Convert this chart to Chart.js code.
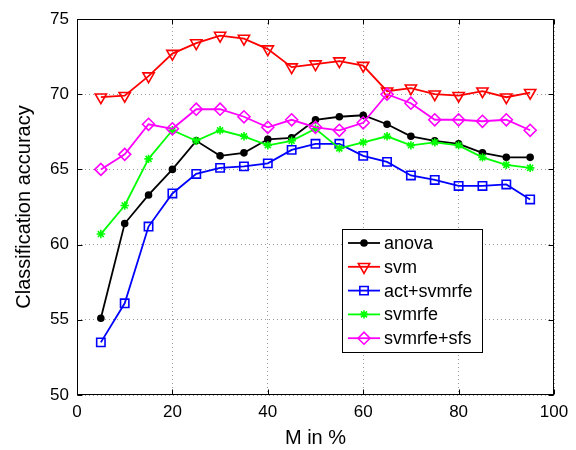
<!DOCTYPE html>
<html>
<head>
<meta charset="utf-8">
<script src="https://cdn.jsdelivr.net/npm/chart.js@4.4.1/dist/chart.umd.min.js"></script>
<style>
html,body{margin:0;padding:0;background:#ffffff;}
#wrap{width:576px;height:450px;position:relative;}
</style>
</head>
<body>
<div id="wrap"><canvas id="c" width="576" height="450"></canvas></div>
<script>
// ---- data ----
const mPercent = [5,10,15,20,25,30,35,40,45,50,55,60,65,70,75,80,85,90,95];
const anova      = [55.1,61.4,63.3,65.0,66.9,65.9,66.1,67.0,67.1,68.3,68.5,68.6,68.0,67.2,66.9,66.7,66.1,65.8,65.8];
const svm        = [69.8,69.9,71.2,72.7,73.4,73.9,73.7,73.0,71.8,72.0,72.2,71.9,70.2,70.4,70.0,69.9,70.2,69.8,70.1];
const actSvmrfe  = [53.5,56.1,61.2,63.4,64.7,65.1,65.2,65.4,66.3,66.7,66.7,65.9,65.5,64.6,64.3,63.9,63.9,64.0,63.0];
const svmrfe     = [60.7,62.6,65.7,67.6,66.9,67.6,67.2,66.6,66.9,67.7,66.4,66.8,67.2,66.6,66.8,66.6,65.8,65.3,65.1];
const svmrfeSfs  = [65.0,66.0,68.0,67.7,69.0,69.0,68.5,67.8,68.3,67.8,67.6,68.1,70.0,69.4,68.3,68.3,68.2,68.3,67.6];
const seriesNames = ['anova','svm','act+svmrfe','svmrfe','svmrfe+sfs'];
const xTicks = [0,20,40,60,80,100];
const yTicks = [50,55,60,65,70,75];

const FONT = "'Liberation Sans', Arial, Helvetica, sans-serif";
const pts = arr => arr.map((v,i)=>({x:mPercent[i], y:v}));
const clear = 'rgba(0,0,0,0)';

function ds(label, data, color, style, radius, extra, order){
  return Object.assign({
    label: label,
    data: pts(data),
    borderColor: color,
    backgroundColor: color,
    borderWidth: 1.8,
    pointStyle: style,
    pointRadius: radius,
    pointHoverRadius: radius,
    pointBorderColor: color,
    pointBackgroundColor: clear,
    pointBorderWidth: 1.6,
    tension: 0,
    fill: false,
    order: order
  }, extra || {});
}

const datasets = [
  ds(seriesNames[0], anova, '#000000', 'circle', 3, {pointBackgroundColor:'#000000'}, 5),
  ds(seriesNames[1], svm, '#ff0000', 'triangle', 6.5, {pointRotation:180}, 4),
  ds(seriesNames[2], actSvmrfe, '#0000ff', 'rect', 5.9, {}, 3),
  ds(seriesNames[3], svmrfe, '#00ff00', 'star', 4.2, {}, 2),
  ds(seriesNames[4], svmrfeSfs, '#ff00ff', 'rectRot', 6, {}, 1)
];

const boxPlugin = {
  id: 'boxPlugin',
  afterDatasetsDraw(chart){
    const {ctx, chartArea:a, scales} = chart;
    ctx.save();
    ctx.setLineDash([]);
    ctx.strokeStyle = '#000';
    ctx.lineWidth = 1;
    const L = Math.round(a.left)+0.5, R = Math.round(a.right)-0.5, T = Math.round(a.top)+0.5, B = Math.round(a.bottom)-0.5;
    ctx.strokeRect(L, T, R-L, B-T);
    const tl = 5;
    ctx.beginPath();
    xTicks.forEach(v=>{
      const px = Math.round(scales.x.getPixelForValue(v))+0.5;
      ctx.moveTo(px, B); ctx.lineTo(px, B-tl);
      ctx.moveTo(px, T); ctx.lineTo(px, T+tl);
    });
    yTicks.forEach(v=>{
      const py = Math.round(scales.y.getPixelForValue(v))+0.5;
      ctx.moveTo(L, py); ctx.lineTo(L+tl, py);
      ctx.moveTo(R, py); ctx.lineTo(R-tl, py);
    });
    ctx.stroke();
    ctx.restore();
  },
  afterDraw(chart){
    // legend inside the axes
    const ctx = chart.ctx;
    const bx = 342, by = 229, bw = 140, bh = 123;
    ctx.save();
    ctx.setLineDash([]);
    ctx.fillStyle = '#fff';
    ctx.fillRect(bx, by, bw, bh);
    ctx.strokeStyle = '#000';
    ctx.lineWidth = 1;
    ctx.strokeRect(bx+0.5, by+0.5, bw, bh);
    const step = 23.8;
    chart.data.datasets.forEach((d,i)=>{
      const y = by + 14 + i*step;
      ctx.strokeStyle = d.borderColor;
      ctx.lineWidth = d.borderWidth;
      ctx.beginPath();
      ctx.moveTo(bx+6, y); ctx.lineTo(bx+38, y);
      ctx.stroke();
      ctx.fillStyle = d.pointBackgroundColor;
      ctx.strokeStyle = d.pointBorderColor;
      ctx.lineWidth = d.pointBorderWidth;
      Chart.helpers.drawPoint(ctx, {pointStyle:d.pointStyle, rotation:d.pointRotation||0, radius:d.pointRadius, borderWidth:d.pointBorderWidth}, bx+22, y);
      ctx.fillStyle = '#000';
      ctx.font = '18px ' + FONT;
      ctx.textBaseline = 'middle';
      ctx.textAlign = 'left';
      ctx.fillText(d.label, bx+42, y+1);
    });
    ctx.restore();
  }
};

new Chart(document.getElementById('c'), {
  type: 'line',
  data: { datasets: datasets },
  options: {
    responsive: false,
    animation: false,
    events: [],
    layout: { padding: { left: 0, right: 22, top: 19, bottom: 0 } },
    plugins: { legend: { display: false }, tooltip: { enabled: false } },
    scales: {
      x: {
        type: 'linear', min: 0, max: 100,
        afterBuildTicks: s => { s.ticks = xTicks.map(v=>({value:v})); },
        afterFit: s => { s.height = 55; },
        ticks: { color:'#000', font:{family:FONT, size:17}, padding: 7, maxRotation:0 },
        grid: { color:'#9a9a9a', lineWidth:1, drawTicks:false },
        border: { display:false, dash:[1,3] },
        title: { display:true, text:'M in %', color:'#000', font:{family:FONT, size:20}, padding:{top:0,bottom:0} }
      },
      y: {
        type: 'linear', min: 50, max: 75,
        afterBuildTicks: s => { s.ticks = yTicks.map(v=>({value:v})); },
        afterFit: s => { s.width = 77; },
        ticks: { color:'#000', font:{family:FONT, size:17}, padding: 8 },
        grid: { color:'#9a9a9a', lineWidth:1, drawTicks:false },
        border: { display:false, dash:[1,3] },
        title: { display:true, text:'Classification accuracy', color:'#000', font:{family:FONT, size:20}, padding:{top:12,bottom:0} }
      }
    }
  },
  plugins: [boxPlugin]
});
</script>
</body>
</html>
